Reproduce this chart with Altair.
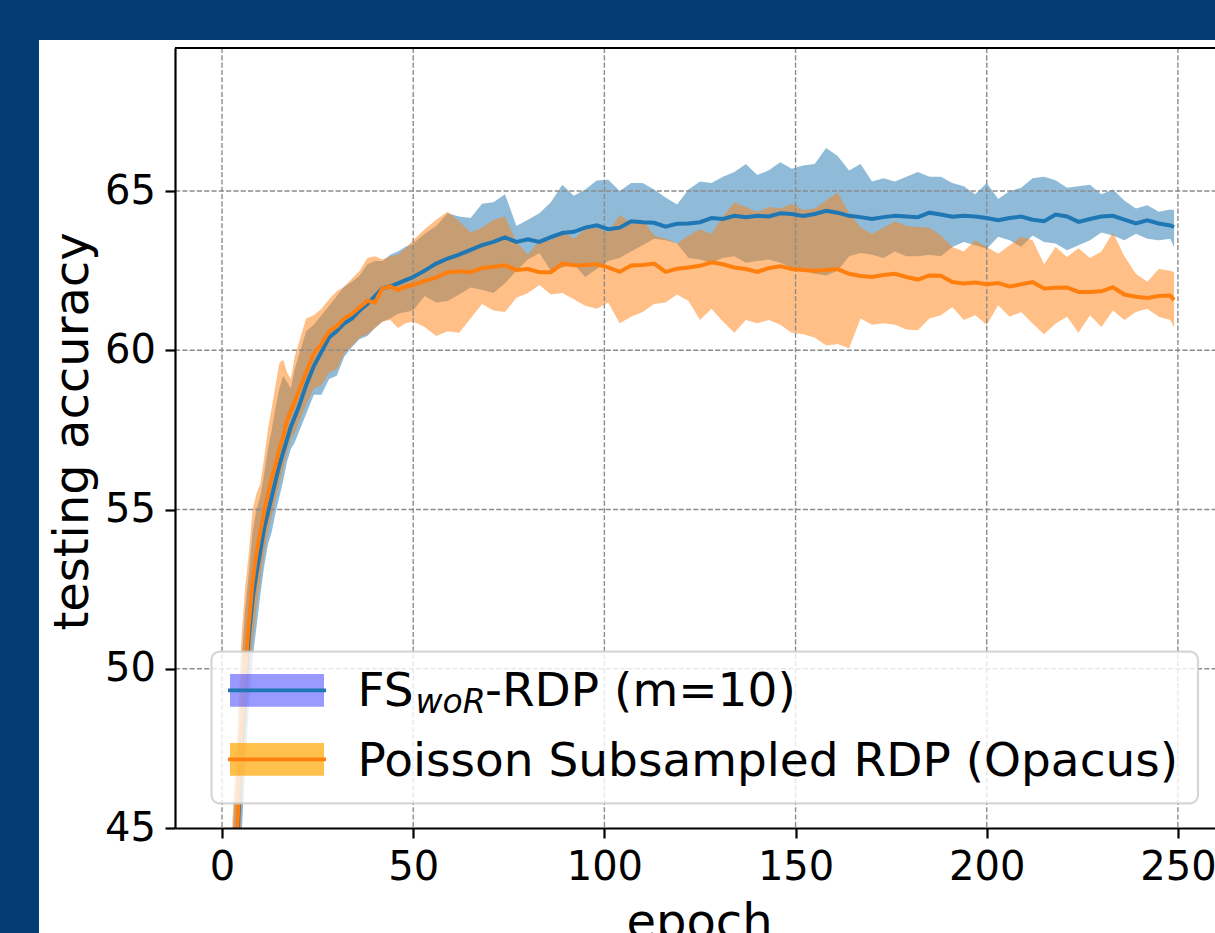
import altair as alt
import pandas as pd

# ---------------- data ----------------
epochs = list(range(0, 21)) + list(range(22, 50, 2)) + list(range(50, 249, 3)) + [249]

fswor_mean = [
    26.0, 34.0, 39.5, 42.8, 44.6, 47.2, 49.3, 51.0, 52.2, 53.0, 53.7, 54.4, 54.9, 55.4, 55.9, 56.4, 56.8, 57.2, 57.6, 57.9, 58.2,
    58.9, 59.5, 59.95, 60.4, 60.6, 60.85, 61.0, 61.25, 61.45, 61.7, 61.95, 62.0, 62.1, 62.2,
    62.30, 62.50, 62.72, 62.88, 63.00, 63.15, 63.30, 63.40, 63.54, 63.40,
    63.48, 63.40, 63.55, 63.68, 63.72, 63.85, 63.92, 63.80, 63.85, 64.05,
    64.02, 64.00, 63.88, 63.97, 63.98, 64.02, 64.15, 64.12, 64.22, 64.18,
    64.22, 64.20, 64.30, 64.28, 64.22, 64.28, 64.38, 64.32, 64.22, 64.18,
    64.12, 64.18, 64.22, 64.20, 64.18, 64.32, 64.26, 64.19, 64.22, 64.20,
    64.15, 64.08, 64.15, 64.20, 64.10, 64.05, 64.26, 64.20, 64.03, 64.12,
    64.20, 64.22, 64.10, 63.98, 64.08, 63.98, 63.92,
    63.87,
]
fswor_low = [
    22.0, 30.0, 36.5, 40.0, 42.0, 44.5, 46.8, 48.8, 50.3, 51.3, 52.3, 53.2, 53.9, 54.3, 54.9, 55.4, 55.9, 56.5, 56.9, 57.1, 57.4,
    58.0, 58.6, 58.6, 59.1, 59.2, 59.8, 60.1, 60.35, 60.45, 60.7, 60.9, 61.0, 61.15, 61.2,
    61.25, 61.70, 61.50, 61.55, 61.75, 61.97, 61.90, 61.80, 62.10, 62.50,
    62.85, 63.05, 62.50, 62.60, 62.70, 62.30, 62.55, 62.80, 62.90, 63.10,
    63.30, 63.50, 63.45, 63.35, 62.90, 62.85, 62.75, 62.90, 62.95, 62.75,
    62.80, 62.85, 62.75, 62.60, 62.50, 62.40, 62.35, 62.50, 62.95, 63.05,
    63.00, 62.90, 63.10, 62.95, 62.95, 63.00, 62.95, 63.24, 63.40, 63.30,
    63.19, 63.56, 63.45, 63.25, 63.60, 63.40, 63.35, 63.14, 63.30, 63.45,
    63.70, 63.60, 63.45, 63.66, 63.50, 63.45, 63.50,
    63.24,
]
fswor_high = [
    30.0, 38.0, 42.3, 45.3, 47.3, 50.0, 51.8, 53.0, 54.3, 55.0, 55.4, 56.1, 56.9, 57.5, 58.2, 58.8, 59.2, 59.0, 58.8, 59.4, 59.8,
    60.6, 60.8, 61.1, 61.4, 61.7, 62.0, 62.15, 62.35, 62.7, 62.8, 62.8, 63.0, 63.1, 63.25,
    63.35, 63.66, 63.90, 64.30, 64.20, 64.15, 64.60, 64.65, 64.90, 63.90,
    64.10, 64.30, 64.65, 65.20, 64.85, 65.05, 65.33, 65.35, 65.00, 65.25,
    65.25, 65.05, 64.80, 64.58, 65.05, 65.30, 65.25, 65.45, 65.60, 65.85,
    65.50, 65.65, 65.90, 65.70, 65.80, 65.85, 66.35, 66.10, 65.64, 65.85,
    65.30, 65.40, 65.30, 65.45, 65.60, 65.45, 65.45, 65.25, 65.15, 64.90,
    65.25, 64.75, 65.00, 65.10, 65.40, 65.45, 65.34, 65.10, 65.15, 65.20,
    64.90, 65.05, 64.70, 64.45, 64.55, 64.35, 64.42,
    64.40,
]
poisson_mean = [
    28.0, 36.0, 40.5, 43.4, 45.0, 47.8, 49.8, 51.4, 52.7, 53.6, 54.3, 54.9, 55.5, 56.0, 56.4, 56.9, 57.3, 57.8, 58.1, 58.4, 58.7,
    59.3, 59.9, 60.2, 60.6, 60.75, 61.0, 61.15, 61.35, 61.55, 61.5, 61.95, 62.0, 61.9, 62.0,
    62.05, 62.18, 62.28, 62.45, 62.48, 62.45, 62.58, 62.62, 62.67, 62.52,
    62.55, 62.45, 62.45, 62.72, 62.67, 62.68, 62.70, 62.60, 62.46, 62.66,
    62.68, 62.72, 62.46, 62.56, 62.60, 62.65, 62.76, 62.70, 62.60, 62.55,
    62.46, 62.58, 62.64, 62.55, 62.52, 62.50, 62.52, 62.55, 62.40, 62.33,
    62.30, 62.36, 62.40, 62.30, 62.22, 62.35, 62.34, 62.14, 62.10, 62.13,
    62.07, 62.11, 62.00, 62.07, 62.14, 61.94, 61.96, 61.97, 61.83, 61.83,
    61.85, 61.98, 61.75, 61.68, 61.64, 61.70, 61.72,
    61.58,
]
poisson_low = [
    24.0, 32.0, 37.5, 40.8, 42.8, 45.3, 47.5, 49.4, 50.9, 51.9, 52.8, 53.6, 54.3, 54.8, 55.3, 55.8, 56.3, 56.8, 57.2, 57.4, 57.7,
    58.3, 58.8, 58.9, 59.3, 59.4, 59.9, 60.15, 60.4, 60.5, 60.7, 60.9, 60.95, 60.7, 60.85,
    60.90, 60.73, 60.45, 60.60, 60.55, 61.00, 61.45, 61.25, 61.20, 61.65,
    61.80, 62.05, 61.75, 61.80, 61.60, 61.40, 61.30, 61.50, 60.85, 61.05,
    61.20, 61.45, 61.50, 61.75, 61.55, 60.95, 61.30, 60.90, 60.55, 60.95,
    60.85, 60.95, 60.80, 60.55, 60.50, 60.40, 60.15, 60.20, 60.06, 61.00,
    60.80, 60.85, 60.80, 60.65, 60.63, 61.00, 61.10, 61.36, 60.95, 61.10,
    60.80, 61.41, 61.05, 61.20, 60.84, 60.50, 60.84, 61.05, 60.55, 61.10,
    60.73, 61.25, 60.95, 61.20, 61.30, 61.05, 60.95,
    60.73,
]
poisson_high = [
    31.0, 39.0, 43.0, 46.0, 48.0, 50.8, 52.5, 53.6, 55.0, 55.5, 55.8, 56.6, 57.5, 58.2, 58.9, 59.6, 59.7, 59.3, 59.1, 59.8, 60.2,
    61.0, 61.1, 61.3, 61.6, 61.85, 62.0, 62.25, 62.5, 62.9, 62.95, 62.85, 62.95, 63.0, 63.2,
    63.45, 63.80, 64.10, 64.35, 64.05, 63.70, 63.85, 64.10, 64.20, 63.40,
    63.00, 63.45, 63.45, 63.75, 63.50, 63.80, 63.85, 63.70, 64.25, 64.00,
    64.10, 63.60, 63.50, 63.35, 63.60, 63.80, 63.65, 64.20, 64.65, 64.50,
    64.35, 64.50, 64.45, 64.60, 64.40, 64.45, 64.70, 64.95, 64.30, 63.86,
    63.65, 63.85, 64.05, 63.90, 63.87, 63.85, 63.60, 63.24, 63.10, 63.45,
    63.24, 63.03, 63.30, 63.56, 63.45, 62.70, 63.24, 62.93, 63.20, 62.90,
    63.10, 63.70, 62.95, 62.40, 62.15, 62.55, 62.50,
    62.46,
]

x_ticks = [0, 50, 100, 150, 200, 250]
y_ticks = [45, 50, 55, 60, 65]
y_grid = [50, 55, 60, 65]

series_names = ["FS", "woR", "-RDP (m=10)", "Poisson Subsampled RDP (Opacus)"]

for arr in (fswor_mean, fswor_low, fswor_high, poisson_mean, poisson_low, poisson_high):
    assert len(arr) == len(epochs), (len(arr), len(epochs))

df = pd.DataFrame({
    "epoch": epochs,
    "fswor_mean": fswor_mean, "fswor_low": fswor_low, "fswor_high": fswor_high,
    "poisson_mean": poisson_mean, "poisson_low": poisson_low, "poisson_high": poisson_high,
})

# ---------------- styling ----------------
W, H = 1040, 780
FONT = "DejaVu Sans"
BLUE, ORANGE = "#1f77b4", "#ff7f0e"
FRAME = "#033d73"

xs = alt.Scale(domain=[-12.3, 259.7], nice=False, zero=False)
ys = alt.Scale(domain=[45, 69.49], nice=False, zero=False)

common_axis = dict(
    domainColor="black", domainWidth=2.2, tickColor="black", tickWidth=2.2, tickSize=10,
    labelFont=FONT, labelFontSize=40, labelColor="black", labelPadding=9.5,
    labelFlush=False, labelOverlap=False, grid=False,
    titleFont=FONT, titleFontSize=48, titleFontWeight="normal", titleColor="black",
    titleBaseline="alphabetic", titleAlign="center", zindex=1, format="d",
)
xax = alt.Axis(values=x_ticks, title="epoch", titleX=524, titleY=109, **common_axis)
yax = alt.Axis(values=y_ticks, title="testing accuracy", titleAngle=270, titleX=-88, titleY=383, **common_axis)

X = alt.X("epoch:Q", scale=xs, axis=xax)

band_blue = alt.Chart(df).mark_area(color=BLUE, opacity=0.5, clip=True).encode(
    x=X, y=alt.Y("fswor_low:Q", scale=ys, axis=yax), y2="fswor_high:Q")
band_orange = alt.Chart(df).mark_area(color=ORANGE, opacity=0.5, clip=True).encode(
    x=X, y=alt.Y("poisson_low:Q", scale=ys, axis=yax), y2="poisson_high:Q")

grid_style = dict(stroke="#8c8c8c", strokeWidth=1.4, strokeDash=[5.1, 2.2])
vgrid = alt.Chart(pd.DataFrame({"gx": x_ticks})).mark_rule(**grid_style).encode(
    x=alt.X("gx:Q", scale=xs, axis=xax), y=alt.value(0), y2=alt.value(H))
hgrid = alt.Chart(pd.DataFrame({"gy": y_grid})).mark_rule(**grid_style).encode(
    y=alt.Y("gy:Q", scale=ys, axis=yax), x=alt.value(0), x2=alt.value(W))

line_blue = alt.Chart(df).mark_line(color=BLUE, strokeWidth=4, clip=True).encode(
    x=X, y=alt.Y("fswor_mean:Q", scale=ys, axis=yax))
line_orange = alt.Chart(df).mark_line(color=ORANGE, strokeWidth=4, clip=True).encode(
    x=X, y=alt.Y("poisson_mean:Q", scale=ys, axis=yax))

one = alt.InlineData(values=[{}])

legend_box = alt.Chart(one).mark_rect(
    cornerRadius=8, fill="white", fillOpacity=0.8, stroke="#cccccc", strokeWidth=2.2, strokeOpacity=0.8
).encode(x=alt.value(36.5), x2=alt.value(1023), y=alt.value(603.7), y2=alt.value(755.3))

patch_blue = alt.Chart(one).mark_rect(fill="blue", fillOpacity=0.4).encode(
    x=alt.value(55), x2=alt.value(149), y=alt.value(626), y2=alt.value(658.7))
patch_orange = alt.Chart(one).mark_rect(fill="#ffa500", fillOpacity=0.7).encode(
    x=alt.value(55), x2=alt.value(149), y=alt.value(695), y2=alt.value(727.7))
lh_blue = alt.Chart(one).mark_rule(stroke=BLUE, strokeWidth=3.7).encode(
    x=alt.value(53), x2=alt.value(151), y=alt.value(642.3))
lh_orange = alt.Chart(one).mark_rule(stroke=ORANGE, strokeWidth=3.7).encode(
    x=alt.value(53), x2=alt.value(151), y=alt.value(711.3))

txt = dict(align="left", baseline="alphabetic", font=FONT, color="black")
t1 = alt.Chart(one).mark_text(fontSize=47, **txt).encode(
    x=alt.value(182.5), y=alt.value(658), text=alt.value(series_names[0]))
t2 = alt.Chart(one).mark_text(fontSize=33, fontStyle="italic", **txt).encode(
    x=alt.value(240.5), y=alt.value(664.5), text=alt.value(series_names[1]))
t3 = alt.Chart(one).mark_text(fontSize=47, **txt).encode(
    x=alt.value(310), y=alt.value(658), text=alt.value(series_names[2]))
t4 = alt.Chart(one).mark_text(fontSize=47, **txt).encode(
    x=alt.value(182.5), y=alt.value(727.7), text=alt.value(series_names[3]))

top_spine = alt.Chart(one).mark_rule(stroke="black", strokeWidth=2.2).encode(
    x=alt.value(0), x2=alt.value(W), y=alt.value(0))

frame_left = alt.Chart(one).mark_rect(fill=FRAME).encode(
    x=alt.value(-175), x2=alt.value(-136), y=alt.value(-48), y2=alt.value(H + 105))
frame_top = alt.Chart(one).mark_rect(fill=FRAME).encode(
    x=alt.value(-175), x2=alt.value(W), y=alt.value(-48), y2=alt.value(-8))

chart = alt.layer(
    band_blue, band_orange, vgrid, hgrid, line_blue, line_orange,
    legend_box, patch_blue, patch_orange, lh_blue, lh_orange, t1, t2, t3, t4,
    top_spine, frame_left, frame_top,
).properties(
    width=W, height=H,
    autosize=alt.AutoSizeParams(type="none"),
    padding={"left": 175, "top": 48, "right": 0, "bottom": 105},
    background="white",
).configure(font=FONT).configure_view(stroke=None)

chart.save("out.html", embed_options={"renderer": "svg", "actions": False})
